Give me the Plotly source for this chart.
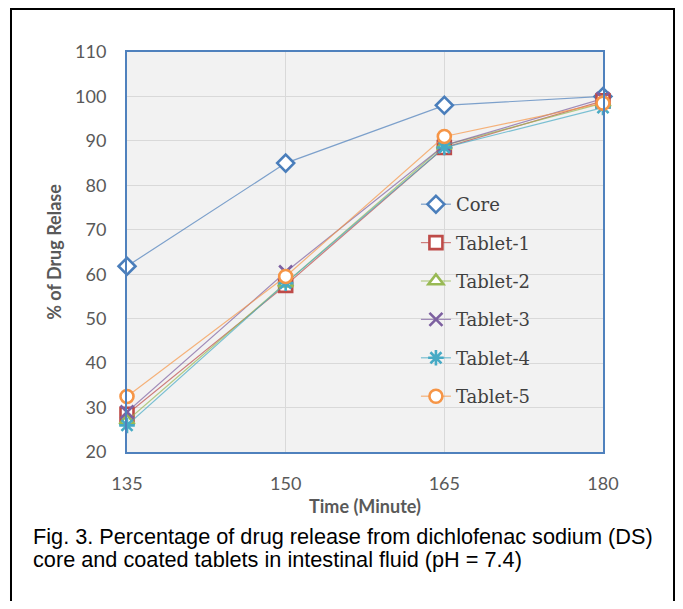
import plotly.graph_objects as go

# data
time_min = [135, 150, 165, 180]
core = [61.8, 85.0, 98.0, 100.0]
tablet_1 = [28.5, 57.5, 88.5, 99.0]
tablet_2 = [27.0, 58.0, 89.0, 98.5]
tablet_3 = [29.0, 60.5, 89.0, 99.5]
tablet_4 = [26.0, 58.0, 88.5, 97.5]
tablet_5 = [32.5, 59.5, 91.0, 98.5]

series = [
    ("Core", core, "74,126,187", "diamond"),
    ("Tablet-1", tablet_1, "190,75,72", "square"),
    ("Tablet-2", tablet_2, "152,185,84", "triangle-up"),
    ("Tablet-3", tablet_3, "125,96,160", "x-thin"),
    ("Tablet-4", tablet_4, "70,170,197", "asterisk"),
    ("Tablet-5", tablet_5, "246,149,70", "circle"),
]

caption_lines = ["Fig. 3. Percentage of drug release from dichlofenac sodium (DS)",
                 "core and coated tablets in intestinal fluid (pH = 7.4)"]

fig = go.Figure()
for name, vals, rgb, sym in series:
    col = f"rgb({rgb})"
    line_only = sym in ("x-thin", "asterisk")
    fig.add_trace(go.Scatter(
        x=time_min, y=vals, name=name, mode="lines+markers",
        legendgroup=name, cliponaxis=False,
        line=dict(color=f"rgba({rgb},0.7)", width=1.2),
        marker=dict(symbol=sym, size=13, color=col if line_only else "white",
                    line=dict(color=col, width=2.6)),
    ))

axis_font = dict(family="Lato, Open Sans, sans-serif", size=18, color="#595959")

# page body has an 8px margin all round, so the figure is 16px smaller than the window
fig.update_layout(
    width=667, height=593,
    margin=dict(l=119, r=72, t=44, b=149),
    paper_bgcolor="white", plot_bgcolor="#f2f2f2",
    showlegend=True,
    legend=dict(x=0.607, y=0.665, xanchor="left", yanchor="top",
                bgcolor="rgba(0,0,0,0)", traceorder="grouped", tracegroupgap=12,
                font=dict(family="DejaVu Serif, serif", size=18, color="#404040")),
    xaxis=dict(range=[135, 180], tickvals=time_min, showgrid=True, gridcolor="#d9d9d9",
               showline=True, linecolor="#4f81bd", linewidth=2, mirror=True, zeroline=False,
               tickfont=axis_font, ticklabelstandoff=14,
               title=dict(text="<b>Time (Minute)</b>", font=axis_font, standoff=8)),
    yaxis=dict(range=[20, 110], dtick=10, showgrid=True, gridcolor="#d9d9d9",
               showline=True, linecolor="#4f81bd", linewidth=2, mirror=True, zeroline=False,
               tickfont=axis_font, ticklabelstandoff=15,
               title=dict(text="<b>% of Drug Relase</b>", font=axis_font, standoff=9)),
    shapes=[dict(type="rect", xref="paper", yref="paper",
                 x0=-0.2437, x1=1.1492, y0=-0.42, y1=1.1075,
                 line=dict(color="black", width=2))],
)

for txt, yy in zip(caption_lines, [-0.21, -0.2675]):
    fig.add_annotation(text=txt, xref="paper", yref="paper", x=-0.2017, y=yy,
                       xanchor="left", yanchor="middle", align="left", showarrow=False,
                       font=dict(family="Liberation Sans, Arial, sans-serif", size=21.7, color="black"))

fig.write_html("out.html")
